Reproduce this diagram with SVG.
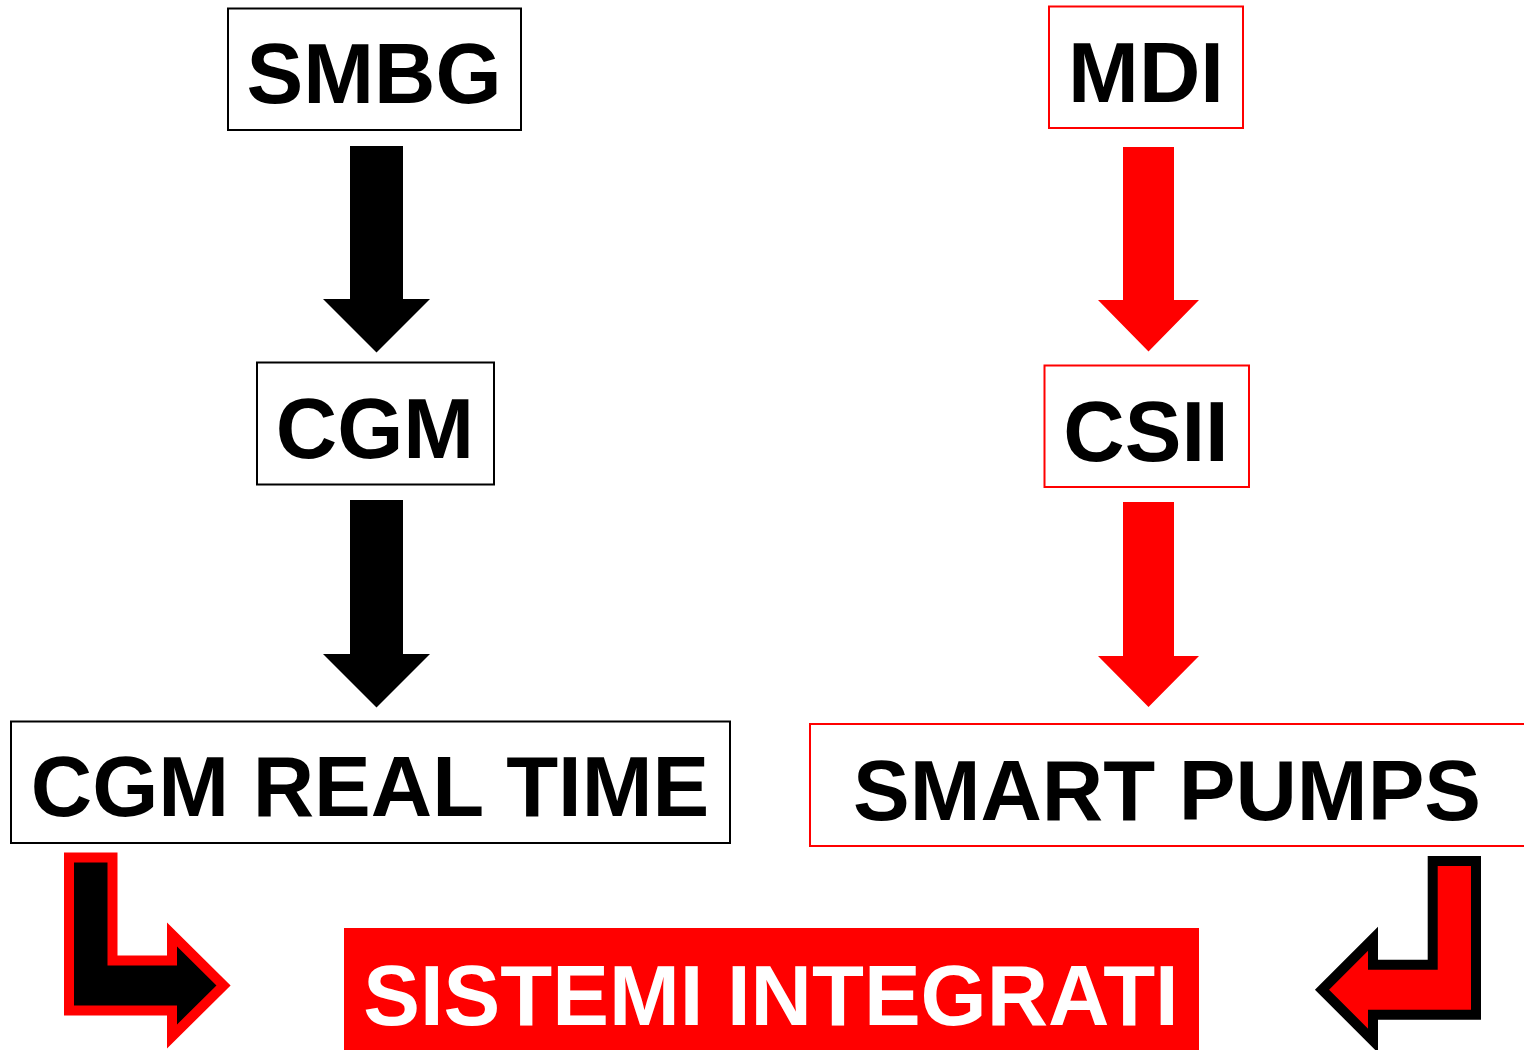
<svg xmlns="http://www.w3.org/2000/svg" width="1524" height="1050" viewBox="0 0 1524 1050">
  <style>
    .box-k { fill: #fff; stroke: #000; stroke-width: 2; }
    .box-r { fill: #fff; stroke: #ff0000; stroke-width: 2; }
    .lbl { font-family: "Liberation Sans", Arial, sans-serif; font-weight: bold; font-size: 85px; text-anchor: middle; fill: #000; }
    .lbl-w { fill: #fff; }
    .arr-k { fill: #000; }
    .arr-r { fill: #ff0000; }
  </style>
  <rect width="1524" height="1050" fill="#fff"/>

  <!-- connectors -->
  <g id="connectors">
    <!-- SMBG -> CGM -->
    <polygon class="arr-k" points="350,146 403,146 403,299 430,299 376.5,352.5 323,299 350,299"/>
    <!-- CGM -> CGM REAL TIME -->
    <polygon class="arr-k" points="350,500 403,500 403,654 430,654 376.5,707.5 323,654 350,654"/>
    <!-- MDI -> CSII -->
    <polygon class="arr-r" points="1123,147 1174,147 1174,300 1199,300 1148.5,351.5 1098,300 1123,300"/>
    <!-- CSII -> SMART PUMPS -->
    <polygon class="arr-r" points="1123,502 1174,502 1174,656 1199,656 1148.5,707 1098,656 1123,656"/>
    <!-- CGM REAL TIME -> SISTEMI INTEGRATI -->
    <path d="M69,857.5 L112.5,857.5 L112.5,960.5 L172,960.5 L172,934.5 L223.5,985.5 L172,1036.5 L172,1010.5 L69,1010.5 Z" fill="#000" stroke="#ff0000" stroke-width="10"/>
    <!-- SMART PUMPS -> SISTEMI INTEGRATI -->
    <path d="M1476,861 L1432.7,861 L1432.7,964.7 L1373,964.7 L1373,938.7 L1322,989.7 L1373,1040.7 L1373,1014.7 L1476,1014.7 Z" fill="#ff0000" stroke="#000" stroke-width="10"/>
  </g>

  <g id="smbg">
    <rect class="box-k" x="228" y="8.5" width="293" height="121.5"/>
    <text class="lbl" x="374" y="103">SMBG</text>
  </g>
  <g id="mdi">
    <rect class="box-r" x="1049" y="6.5" width="194" height="121.5"/>
    <text class="lbl" x="1146" y="102">MDI</text>
  </g>
  <g id="cgm">
    <rect class="box-k" x="257" y="362.5" width="237" height="122"/>
    <text class="lbl" x="375" y="458">CGM</text>
  </g>
  <g id="csii">
    <rect class="box-r" x="1044.5" y="365.5" width="204.5" height="121.5"/>
    <text class="lbl" x="1146" y="461">CSII</text>
  </g>
  <g id="cgm-real-time">
    <rect class="box-k" x="11" y="721.5" width="719" height="121.5"/>
    <text class="lbl" x="370" y="816">CGM REAL TIME</text>
  </g>
  <g id="smart-pumps">
    <rect class="box-r" x="810" y="724" width="730" height="122"/>
    <text class="lbl" x="1167" y="820">SMART PUMPS</text>
  </g>
  <g id="sistemi-integrati">
    <rect x="344" y="928" width="855" height="130" fill="#ff0000"/>
    <text class="lbl lbl-w" x="771" y="1025">SISTEMI INTEGRATI</text>
  </g>
</svg>
